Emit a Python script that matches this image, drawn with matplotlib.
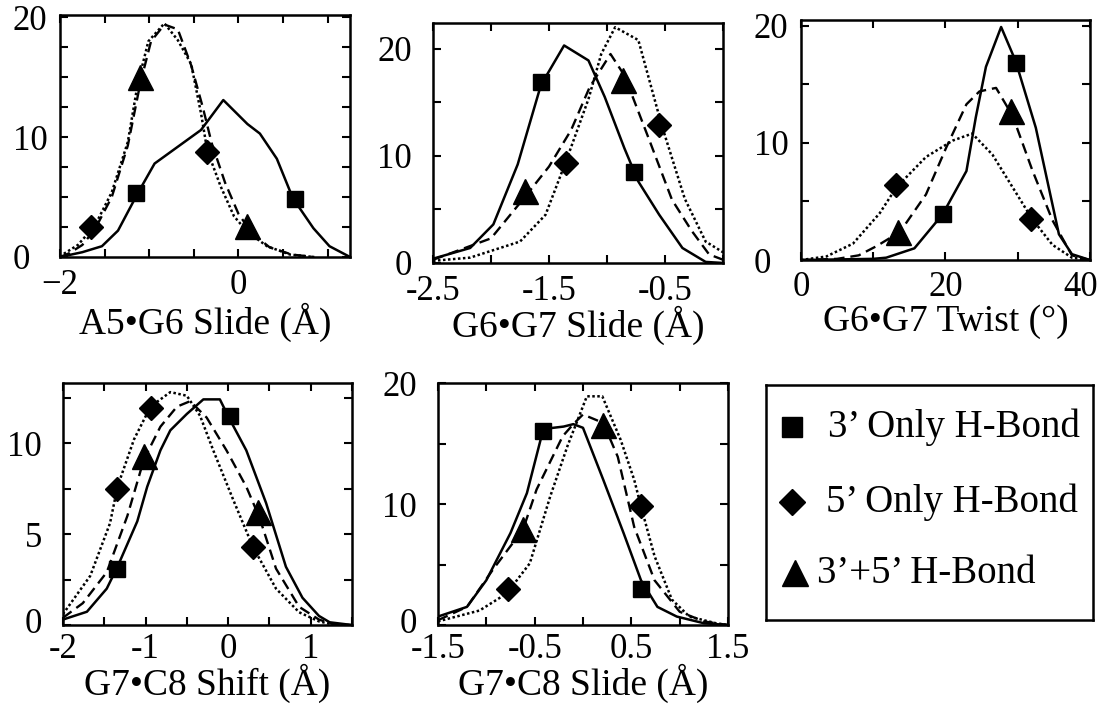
import matplotlib
matplotlib.use('Agg')
import matplotlib.pyplot as plt
from matplotlib.lines import Line2D
from matplotlib.transforms import ScaledTranslation

plt.rcParams['font.family'] = ['Liberation Serif', 'DejaVu Serif']

# A5*G6 slide
a5g6_slide_x_3p = [-2.0, -1.75, -1.53, -1.35, -1.13, -0.94, -0.68, -0.42, -0.17, 0.1, 0.24, 0.43, 0.61, 0.84, 1.02, 1.25]
a5g6_slide_y_3p = [0.0, 0.4, 0.9, 2.2, 5.3, 7.8, 9.2, 10.6, 13.1, 11.1, 10.3, 8.2, 4.9, 2.4, 0.9, 0.0]
a5g6_slide_x_5p = [-2.0, -1.95, -1.8, -1.61, -1.42, -1.24, -1.13, -1.01, -0.83, -0.68, -0.53, -0.42, -0.35, -0.2, -0.05, 0.1, 0.32, 0.58, 0.84]
a5g6_slide_y_5p = [0.0, 0.3, 1.0, 2.6, 5.4, 9.6, 14.4, 18.0, 19.5, 18.1, 16.1, 12.0, 8.9, 5.9, 3.4, 2.1, 0.9, 0.2, 0.0]
a5g6_slide_x_35 = [-2.0, -1.9, -1.75, -1.61, -1.42, -1.24, -1.1, -0.98, -0.83, -0.68, -0.53, -0.4, -0.3, -0.15, 0.0, 0.15, 0.35, 0.6, 0.85]
a5g6_slide_y_35 = [0.0, 0.3, 1.0, 2.3, 5.0, 9.3, 14.5, 18.0, 19.4, 19.0, 16.0, 12.5, 9.5, 6.2, 3.6, 2.0, 0.8, 0.2, 0.0]
a5g6_slide_sq = [(-1.15, 5.3), (0.63, 4.8)]
a5g6_slide_di = [(-1.65, 2.5), (-0.35, 8.8)]
a5g6_slide_tr = [(-1.1, 15.0), (0.1, 2.6)]

# G6*G7 slide
g6g7_slide_x_3p = [-2.5, -2.18, -1.98, -1.77, -1.57, -1.37, -1.16, -1.02, -0.85, -0.73, -0.55, -0.35, -0.15, 0.0]
g6g7_slide_y_3p = [0.4, 1.4, 3.6, 9.2, 16.6, 20.3, 18.9, 15.5, 10.7, 7.6, 4.5, 1.4, 0.1, 0.0]
g6g7_slide_x_5p = [-2.5, -2.18, -1.75, -1.53, -1.35, -1.16, -1.05, -0.93, -0.73, -0.53, -0.33, -0.15, 0.0]
g6g7_slide_y_5p = [0.2, 0.5, 2.0, 4.5, 9.6, 15.3, 19.5, 22.0, 20.8, 12.9, 6.0, 2.0, 1.0]
g6g7_slide_x_35 = [-2.5, -2.2, -2.0, -1.72, -1.5, -1.31, -1.15, -0.97, -0.85, -0.64, -0.44, -0.27, -0.12, 0.0]
g6g7_slide_y_35 = [0.3, 1.5, 2.3, 6.0, 9.0, 12.4, 16.4, 19.5, 17.5, 11.6, 5.9, 3.0, 0.8, 0.3]
g6g7_slide_sq = [(-1.57, 16.9), (-0.77, 8.5)]
g6g7_slide_di = [(-1.35, 9.3), (-0.55, 12.9)]
g6g7_slide_tr = [(-1.71, 6.7), (-0.86, 17.1)]

# G6*G7 twist
g6g7_twist_x_3p = [0, 5, 10, 11.8, 15.7, 19.6, 22.9, 24.2, 25.6, 27.7, 29.7, 32.5, 35.7, 37.5, 40]
g6g7_twist_y_3p = [0, 0.05, 0.1, 0.2, 1.0, 3.9, 7.6, 12.2, 16.5, 19.9, 17.0, 11.3, 2.2, 0.5, 0]
g6g7_twist_x_5p = [0, 3.5, 7.2, 10.9, 13.2, 17.3, 21, 23.7, 26.5, 29.3, 32, 34.8, 37.5, 40]
g6g7_twist_y_5p = [0, 0.3, 1.4, 4.0, 6.2, 8.8, 10.2, 10.8, 9.0, 6.2, 3.5, 1.3, 0.2, 0]
g6g7_twist_x_35 = [0, 5, 8, 10.5, 13.7, 17.3, 20.1, 22.9, 24.7, 27, 29.3, 32, 34.8, 37.5, 40]
g6g7_twist_y_35 = [0, 0.1, 0.4, 1.2, 2.4, 5.6, 9.6, 13.3, 14.4, 14.7, 12.3, 7.7, 3.4, 0.4, 0]
g6g7_twist_sq = [(19.6, 3.9), (29.8, 16.8)]
g6g7_twist_di = [(13.2, 6.4), (31.8, 3.5)]
g6g7_twist_tr = [(13.4, 2.4), (29.0, 12.7)]

# G7*C8 shift
g7c8_shift_x_3p = [-2.0, -1.71, -1.47, -1.34, -1.1, -0.98, -0.82, -0.7, -0.5, -0.3, -0.1, 0.02, 0.22, 0.46, 0.7, 0.9, 1.1, 1.23, 1.5]
g7c8_shift_y_3p = [0.3, 0.73, 2.0, 3.2, 5.7, 7.6, 9.6, 10.7, 11.6, 12.4, 12.4, 11.3, 9.6, 6.7, 3.2, 1.5, 0.5, 0.15, 0]
g7c8_shift_x_5p = [-2.0, -1.67, -1.43, -1.34, -1.14, -0.94, -0.7, -0.5, -0.34, -0.18, 0.06, 0.3, 0.58, 0.86, 1.1, 1.3, 1.5]
g7c8_shift_y_5p = [0.6, 2.7, 5.6, 7.6, 10.2, 12.0, 12.8, 12.6, 11.5, 9.6, 6.9, 4.3, 2.0, 0.7, 0.2, 0.0, 0.0]
g7c8_shift_x_35 = [-2.0, -1.76, -1.47, -1.22, -1.02, -0.82, -0.62, -0.46, -0.26, -0.02, 0.22, 0.38, 0.58, 0.86, 1.1, 1.3, 1.5]
g7c8_shift_y_35 = [0.4, 1.2, 2.9, 6.0, 9.1, 10.9, 12.0, 12.3, 11.4, 9.6, 7.6, 5.9, 3.1, 1.0, 0.3, 0.0, 0.0]
g7c8_shift_sq = [(-1.34, 3.1), (0.02, 11.5)]
g7c8_shift_di = [(-1.34, 7.5), (-0.94, 11.9), (0.3, 4.3)]
g7c8_shift_tr = [(-1.02, 9.3), (0.36, 6.2)]

# G7*C8 slide
g7c8_slide_x_3p = [-1.5, -1.2, -1.0, -0.75, -0.58, -0.41, -0.2, -0.1, 0.0, 0.21, 0.42, 0.6, 0.77, 0.97, 1.25, 1.5]
g7c8_slide_y_3p = [0.7, 1.5, 3.7, 7.6, 10.9, 16.2, 16.4, 16.6, 16.3, 12.0, 7.6, 3.7, 1.5, 0.7, 0.15, 0]
g7c8_slide_x_5p = [-1.5, -1.07, -0.79, -0.55, -0.34, -0.16, 0.04, 0.2, 0.39, 0.53, 0.6, 0.74, 0.92, 1.1, 1.4, 1.5]
g7c8_slide_y_5p = [0.3, 1.2, 2.6, 5.1, 10.6, 14.8, 18.9, 18.9, 15.3, 12.0, 9.8, 5.7, 2.1, 0.7, 0.1, 0]
g7c8_slide_x_35 = [-1.5, -1.2, -0.93, -0.62, -0.48, -0.21, -0.1, 0.0, 0.21, 0.36, 0.53, 0.74, 1.0, 1.25, 1.5]
g7c8_slide_y_35 = [0.4, 1.5, 4.6, 7.9, 11.2, 15.6, 16.6, 17.4, 16.7, 13.9, 8.1, 3.7, 1.1, 0.3, 0]
g7c8_slide_sq = [(-0.41, 16.0), (0.6, 3.0)]
g7c8_slide_di = [(-0.78, 3.0), (0.6, 9.8)]
g7c8_slide_tr = [(-0.62, 7.9), (0.21, 16.5)]

legend_labels = ['3\u2019 Only H-Bond', '5\u2019 Only H-Bond', '3\u2019+5\u2019 H-Bond']

TICK_FS = 25
LABEL_FS = 27

panels = [
    dict(rect=[0.0545, 0.636, 0.2634, 0.3428], xlim=(-2, 1.25), ylim=(0, 20.2),
         xticks=[-2, -1.5, -1, -0.5, 0, 0.5, 1], xlabels={-2: '\u22122', 0: '0'},
         yticks=[0, 2.5, 5, 7.5, 10, 12.5, 15, 17.5, 20], ylabels={0: '0', 10: '10', 20: '20'},
         yleft=True, xlabel='A5\u2022G6 Slide (\u00c5)', xpad=9, labelpad=0,
         x3=a5g6_slide_x_3p, y3=a5g6_slide_y_3p, x5=a5g6_slide_x_5p, y5=a5g6_slide_y_5p,
         x35=a5g6_slide_x_35, y35=a5g6_slide_y_35,
         sq=a5g6_slide_sq, di=a5g6_slide_di, tr=a5g6_slide_tr),
    dict(rect=[0.3933, 0.6275, 0.2634, 0.340], xlim=(-2.5, 0), ylim=(0, 22.4),
         xticks=[-2.5, -2, -1.5, -1, -0.5, 0], xlabels={-2.5: '-2.5', -1.5: '-1.5', -0.5: '-0.5'},
         yticks=[0, 5, 10, 15, 20], ylabels={0: '0', 10: '10', 20: '20'},
         yleft=False, xlabel='G6\u2022G7 Slide (\u00c5)', xpad=9, labelpad=-2,
         x3=g6g7_slide_x_3p, y3=g6g7_slide_y_3p, x5=g6g7_slide_x_5p, y5=g6g7_slide_y_5p,
         x35=g6g7_slide_x_35, y35=g6g7_slide_y_35,
         sq=g6g7_slide_sq, di=g6g7_slide_di, tr=g6g7_slide_tr),
    dict(rect=[0.7275, 0.6317, 0.2625, 0.340], xlim=(0, 40), ylim=(0, 20.5),
         xticks=[0, 10, 20, 30, 40], xlabels={0: '0', 20: '20', 40: '40'},
         yticks=[0, 5, 10, 15, 20], ylabels={0: '0', 10: '10', 20: '20'},
         yleft=True, xlabel='G6\u2022G7 Twist (\u00b0)', xpad=8, labelpad=0,
         x3=g6g7_twist_x_3p, y3=g6g7_twist_y_3p, x5=g6g7_twist_x_5p, y5=g6g7_twist_y_5p,
         x35=g6g7_twist_x_35, y35=g6g7_twist_y_35,
         sq=g6g7_twist_sq, di=g6g7_twist_di, tr=g6g7_twist_tr),
    dict(rect=[0.0572, 0.1147, 0.2625, 0.3428], xlim=(-2, 1.5), ylim=(0, 13.3),
         xticks=[-2, -1.5, -1, -0.5, 0, 0.5, 1, 1.5], xlabels={-2: '-2', -1: '-1', 0: '0', 1: '1'},
         yticks=[0, 2.5, 5, 7.5, 10, 12.5], ylabels={0: '0', 5: '5', 10: '10'},
         yleft=False, xlabel='G7\u2022C8 Shift (\u00c5)', xpad=6, labelpad=-2,
         x3=g7c8_shift_x_3p, y3=g7c8_shift_y_3p, x5=g7c8_shift_x_5p, y5=g7c8_shift_y_5p,
         x35=g7c8_shift_x_35, y35=g7c8_shift_y_35,
         sq=g7c8_shift_sq, di=g7c8_shift_di, tr=g7c8_shift_tr),
    dict(rect=[0.3978, 0.1147, 0.2634, 0.3428], xlim=(-1.5, 1.5), ylim=(0, 20),
         xticks=[-1.5, -1, -0.5, 0, 0.5, 1, 1.5], xlabels={-1.5: '-1.5', -0.5: '-0.5', 0.5: '0.5', 1.5: '1.5'},
         yticks=[0, 5, 10, 15, 20], ylabels={0: '0', 10: '10', 20: '20'},
         yleft=False, xlabel='G7\u2022C8 Slide (\u00c5)', xpad=6, labelpad=-2,
         x3=g7c8_slide_x_3p, y3=g7c8_slide_y_3p, x5=g7c8_slide_x_5p, y5=g7c8_slide_y_5p,
         x35=g7c8_slide_x_35, y35=g7c8_slide_y_35,
         sq=g7c8_slide_sq, di=g7c8_slide_di, tr=g7c8_slide_tr),
]

fig = plt.figure(figsize=(11.01, 7.06), dpi=100)

axes = []
for p in panels:
    ax = fig.add_axes(p['rect'])
    ax.plot(p['x3'], p['y3'], color='k', lw=1.8, ls='-')
    ax.plot(p['x5'], p['y5'], color='k', lw=1.8, ls=(0, (1, 1)))
    ax.plot(p['x35'], p['y35'], color='k', lw=1.7, ls=(0, (4.5, 2.5)))
    for pts, mk, ms in ((p['sq'], 's', 12), (p['di'], 'D', 12.5), (p['tr'], '^', 18)):
        ax.plot([q[0] for q in pts], [q[1] for q in pts], ls='none', marker=mk,
                ms=ms, color='k', clip_on=False, zorder=5)
    ax.set_xlim(*p['xlim'])
    ax.set_ylim(*p['ylim'])
    ax.set_xticks(p['xticks'])
    ax.set_xticklabels([p['xlabels'].get(t, '') for t in p['xticks']])
    ax.set_yticks(p['yticks'])
    ax.set_yticklabels([p['ylabels'].get(t, '') for t in p['yticks']])
    ax.tick_params(direction='in', top=True, right=True, length=6, width=1.5,
                   labelsize=TICK_FS)
    ax.tick_params(axis='x', pad=p['xpad'])
    if p['yleft']:
        ax.tick_params(axis='y', pad=34)
        for lab in ax.get_yticklabels():
            lab.set_horizontalalignment('left')
    else:
        ax.tick_params(axis='y', pad=15)
    for s in ax.spines.values():
        s.set_linewidth(1.8)
    ax.set_xlabel(p['xlabel'], fontsize=LABEL_FS, labelpad=p['labelpad'])
    axes.append(ax)

# nudge the "40" on the twist axis in from the figure edge
last = axes[2].get_xticklabels()[-1]
last.set_transform(last.get_transform() + ScaledTranslation(-0.09, 0, fig.dpi_scale_trans))

# lift the bottom-row zeros a little so they clear the x labels
for ax in axes[3:]:
    zero = ax.get_yticklabels()[0]
    zero.set_transform(zero.get_transform() + ScaledTranslation(0, 0.05, fig.dpi_scale_trans))

# legend box
lax = fig.add_axes([0.6957, 0.1218, 0.297, 0.3329])
lax.set_xlim(0, 1)
lax.set_ylim(0, 1)
lax.set_xticks([])
lax.set_yticks([])
for s in lax.spines.values():
    s.set_linewidth(1.8)
entries = [('s', 14, 0.08, 0.82, 0.19), ('D', 13, 0.08, 0.50, 0.183), ('^', 19, 0.089, 0.20, 0.156)]
for (mk, ms, mx, my, tx), lab in zip(entries, legend_labels):
    lax.add_line(Line2D([mx], [my], marker=mk, ms=ms, color='k', ls='none'))
    lax.text(tx, my, lab, fontsize=28, va='center', ha='left')

fig.savefig('out.png', dpi=100)
